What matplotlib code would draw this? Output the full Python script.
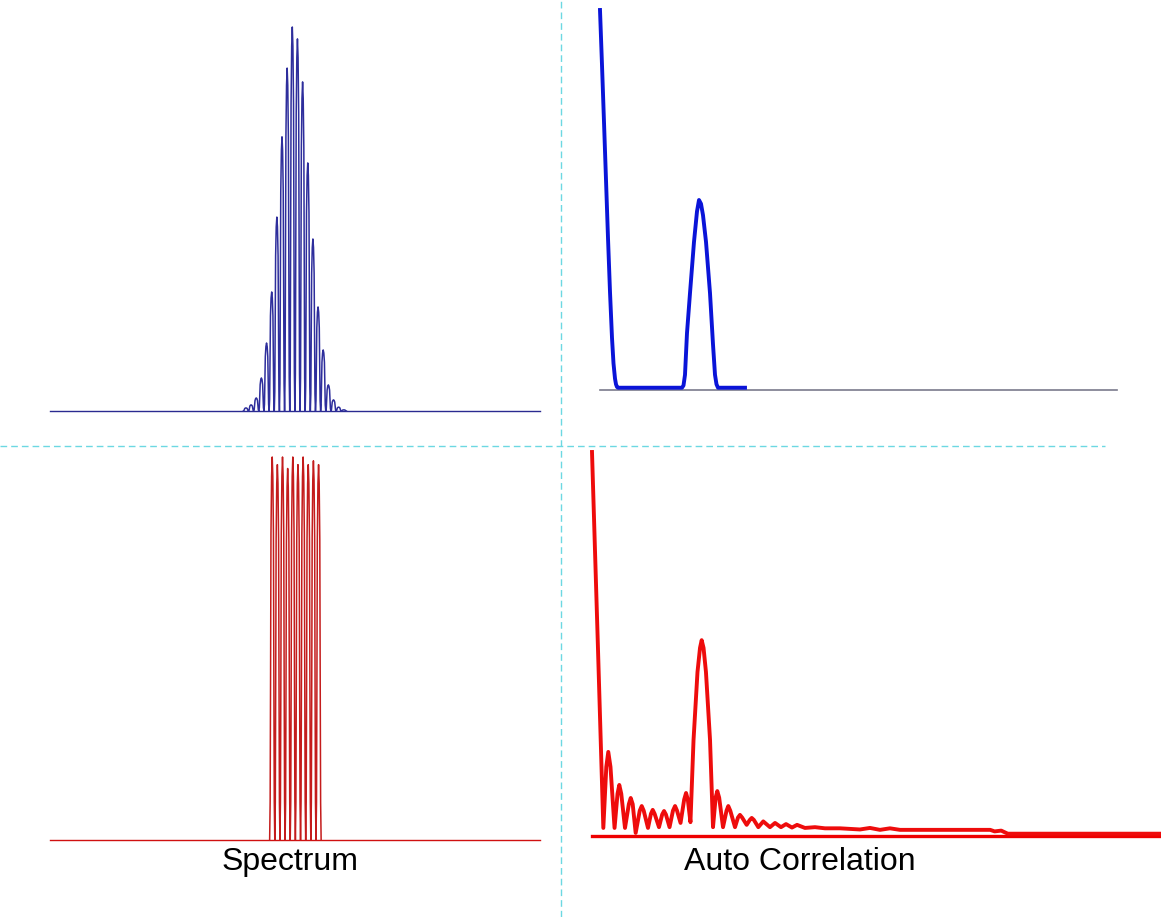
import matplotlib.pyplot as plt
from matplotlib.lines import Line2D

plt.rcParams["font.family"] = ["Liberation Sans", "DejaVu Sans"]

W, H = 1161, 917

# --- spectra (frequency in fringe-spacing units, amplitude normalised) ---
blue_freq = [-9, -8, -7, -6, -5, -4, -3, -2, -1, 0, 1, 2, 3, 4, 5, 6, 7, 8, 9, 10]
blue_height = [0.008, 0.016, 0.034, 0.086, 0.177, 0.31, 0.505, 0.714, 0.893, 1.0,
               0.969, 0.857, 0.646, 0.448, 0.271, 0.159, 0.068, 0.029, 0.010, 0.003]

red_freq = [-3.9, -2.9, -1.9, -0.9, 0.1, 1.1, 2.1, 3.1, 4.1, 5.1]
red_height = [1.0, 0.98, 1.0, 0.97, 1.0, 0.98, 1.0, 0.98, 0.99, 0.98]

# shape of a single interference fringe (offset from its peak, relative height)
fringe_offset = [-0.5, -0.4, -0.32, -0.24, -0.12, 0, 0.12, 0.24, 0.32, 0.4]
fringe_shape = [0, 0.1, 0.42, 0.8, 0.95, 1, 0.95, 0.8, 0.42, 0.1]

# --- autocorrelations (delay in units of the pulse separation) ---
blue_delay = [0, 0.02, 0.04, 0.06, 0.08, 0.10, 0.12, 0.135, 0.15, 0.16, 0.17, 0.18,
              0.82, 0.835, 0.85, 0.87, 0.90, 0.94, 0.97, 0.99, 1.01, 1.03, 1.06, 1.10,
              1.13, 1.15, 1.165, 1.18, 1.45]
blue_corr = [1.0, 0.855, 0.705, 0.553, 0.40, 0.258, 0.137, 0.07, 0.03, 0.015, 0.008, 0.006,
             0.006, 0.012, 0.04, 0.15, 0.255, 0.39, 0.47, 0.5, 0.49, 0.46, 0.39, 0.255,
             0.12, 0.04, 0.015, 0.006, 0.006]

red_delay = [0, 0.052, 0.103, 0.130, 0.148, 0.168, 0.205, 0.232, 0.248, 0.266, 0.300,
             0.335, 0.352, 0.370, 0.397, 0.434, 0.452, 0.470, 0.509, 0.536, 0.552, 0.569,
             0.609, 0.638, 0.655, 0.672, 0.705, 0.736, 0.755, 0.773, 0.805, 0.838, 0.855,
             0.871, 0.895, 0.923, 0.959, 0.982, 0.997, 1.014, 1.036, 1.073, 1.100, 1.124,
             1.139, 1.156, 1.191, 1.223, 1.239, 1.257, 1.300, 1.327, 1.345, 1.365, 1.406,
             1.435, 1.452, 1.471, 1.512, 1.557, 1.618, 1.664, 1.718, 1.764, 1.818, 1.864,
             1.936, 2.027, 2.118, 2.255, 2.436, 2.527, 2.618, 2.709, 2.80, 3.55, 3.62,
             3.66, 3.72, 3.78, 5.173]
red_corr = [1.0, 0.51, 0.021, 0.18, 0.219, 0.18, 0.021, 0.11, 0.133, 0.11, 0.021,
            0.083, 0.099, 0.083, 0.008, 0.066, 0.078, 0.066, 0.021, 0.058, 0.068, 0.058,
            0.023, 0.056, 0.065, 0.056, 0.023, 0.066, 0.078, 0.066, 0.034, 0.095, 0.112,
            0.095, 0.036, 0.25, 0.427, 0.49, 0.51, 0.49, 0.427, 0.25, 0.023, 0.10,
            0.117, 0.10, 0.023, 0.066, 0.078, 0.066, 0.023, 0.048, 0.055, 0.048, 0.029,
            0.042, 0.047, 0.042, 0.023, 0.038, 0.023, 0.034, 0.023, 0.031, 0.022, 0.029,
            0.021, 0.023, 0.020, 0.020, 0.017, 0.021, 0.016, 0.020, 0.016, 0.016, 0.016,
            0.012, 0.014, 0.006, 0.006]


def panel(left, right, top, bottom, xlim, ylim=(0, 1)):
    ax = fig.add_axes([left / W, 1 - bottom / H, (right - left) / W, (bottom - top) / H])
    ax.set_xlim(xlim)
    ax.set_ylim(ylim)
    ax.axis("off")
    return ax


def fringes(freq, height):
    # each peak gets the same fringe profile, scaled to its height
    xs, ys = [], []
    for f, h in zip(freq, height):
        xs += [f + o for o in fringe_offset]
        ys += [h * s for s in fringe_shape]
    xs.append(freq[-1] + 0.5)
    ys.append(0)
    return xs, ys


fig = plt.figure(figsize=(W / 100, H / 100), dpi=100)

spec_xlim = (-47.05, 48.1)

# Spectrum, gaussian pulses
ax1 = panel(50, 540, 27, 411, spec_xlim)
ax1.axhline(0, color="#2a2a90", lw=1.0, clip_on=False)
xs, ys = fringes(blue_freq, blue_height)
ax1.plot(xs, ys, color="#2e2e9c", lw=1.1, clip_on=False)

# Spectrum, flat-top pulses
ax2 = panel(50, 540, 457, 840, spec_xlim)
ax2.axhline(0, color="#d01010", lw=1.0, clip_on=False)
xs, ys = fringes(red_freq, red_height)
ax2.plot(xs, ys, color="#c41c1c", lw=1.1, clip_on=False)

# Autocorrelation, gaussian pulses
ax3 = panel(600, 1117, 10, 390, (0, 5.17))
ax3.axhline(0, color="#7a7a8c", lw=1.2, clip_on=False)
ax3.plot(blue_delay, blue_corr, color="#0a14d8", lw=2.8, clip_on=False,
         solid_joinstyle="round")

# Autocorrelation, flat-top pulses
ax4 = panel(592, 1161, 452, 836, (0, 569 / 110))
ax4.axhline(0, color="#ee0000", lw=2.4, clip_on=False)
ax4.plot(red_delay, red_corr, color="#ee0c0c", lw=2.8, clip_on=False,
         solid_joinstyle="round")

# dashed dividers between the four panels
div = dict(color="#6cd8e2", lw=1.0, ls=(0, (4.8, 2.9)), transform=fig.transFigure)
fig.add_artist(Line2D([561 / W, 561 / W], [0, 1], **div))
fig.add_artist(Line2D([0, 1105 / W], [1 - 446 / H, 1 - 446 / H], **div))

fig.text(290 / W, 1 - 862 / H, "Spectrum", ha="center", va="center", fontsize=23)
fig.text(800 / W, 1 - 862 / H, "Auto Correlation", ha="center", va="center", fontsize=23)

fig.savefig("out.png", dpi=100, facecolor="white")
